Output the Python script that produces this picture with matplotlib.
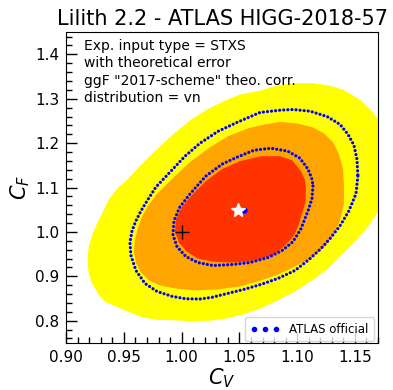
import matplotlib
matplotlib.use("Agg")
import matplotlib.pyplot as plt
from matplotlib.lines import Line2D
from matplotlib.ticker import MultipleLocator, FormatStrFormatter

# Lilith likelihood regions in the (C_V, C_F) plane (boundary vertices)
cv_1sigma = [1.1076, 1.1072, 1.1050, 1.1016, 1.0972, 1.0894, 1.0799, 1.0678, 1.0574, 1.0418,
             1.0271, 1.0141, 1.0046, 0.9977, 0.9942, 0.9951, 1.0003, 1.0089, 1.0210, 1.0349,
             1.0505, 1.0687, 1.0851, 1.0955, 1.1033, 1.1068]
cf_1sigma = [1.0967, 1.0676, 1.0474, 1.0183, 0.9914, 0.9690, 0.9489, 0.9388, 0.9332, 0.9310,
             0.9332, 0.9399, 0.9556, 0.9758, 1.0004, 1.0273, 1.0564, 1.0832, 1.1146, 1.1415,
             1.1594, 1.1706, 1.1706, 1.1616, 1.1370, 1.1168]

cv_2sigma = [1.1405, 1.1405, 1.1371, 1.1310, 1.1232, 1.1111, 1.0981, 1.0834, 1.0687, 1.0505,
             1.0314, 1.0115, 0.9942, 0.9812, 0.9717, 0.9648, 0.9604, 0.9587, 0.9596, 0.9622,
             0.9656, 0.9708, 0.9786, 0.9925, 1.0072, 1.0245, 1.0401, 1.0574, 1.0721, 1.0851,
             1.0998, 1.1137, 1.1232, 1.1310, 1.1362, 1.1397]
cf_2sigma = [1.1079, 1.0631, 1.0250, 0.9914, 0.9646, 0.9399, 0.9220, 0.9041, 0.8907, 0.8772,
             0.8705, 0.8683, 0.8728, 0.8795, 0.8907, 0.9086, 0.9310, 0.9556, 0.9825, 1.0093,
             1.0340, 1.0586, 1.0855, 1.1213, 1.1571, 1.1907, 1.2153, 1.2333, 1.2422, 1.2478,
             1.2445, 1.2355, 1.2221, 1.2019, 1.1750, 1.1415]

cv_3sigma = [1.1821, 1.1786, 1.1700, 1.1613, 1.1500, 1.1388, 1.1267, 1.1128, 1.0981, 1.0834,
             1.0687, 1.0539, 1.0401, 1.0245, 1.0072, 0.9925, 0.9777, 0.9630, 0.9509, 0.9345,
             0.9284, 0.9215, 0.9189, 0.9186, 0.9189, 0.9197, 0.9232, 0.9275, 0.9327, 0.9371,
             0.9448, 0.9535, 0.9639, 0.9769, 0.9925, 1.0072, 1.0219, 1.0375, 1.0505, 1.0678,
             1.0825, 1.0964, 1.1137, 1.1284, 1.1397, 1.1544, 1.1656, 1.1717, 1.1803, 1.1838]
cf_3sigma = [1.1415, 1.0855, 1.0452, 1.0116, 0.9780, 0.9489, 0.9175, 0.8907, 0.8660, 0.8459,
             0.8280, 0.8145, 0.8056, 0.8000, 0.7989, 0.8011, 0.8018, 0.8101, 0.8235, 0.8414,
             0.8571, 0.8884, 0.9175, 0.9332, 0.9511, 0.9690, 0.9981, 1.0228, 1.0496, 1.0743,
             1.0989, 1.1191, 1.1482, 1.1818, 1.2198, 1.2512, 1.2758, 1.2959, 1.3094, 1.3183,
             1.3295, 1.3351, 1.3351, 1.3295, 1.3206, 1.2982, 1.2691, 1.2489, 1.2086, 1.1750]

# ATLAS official 68% and 95% CL contours
cv_atlas68 = [1.1137, 1.1128, 1.1094, 1.1033, 1.0964, 1.0868, 1.0747, 1.0591, 1.0436, 1.0271,
              1.0141, 1.0037, 0.9959, 0.9925, 0.9933, 0.9985, 1.0072, 1.0210, 1.0349, 1.0479,
              1.0626, 1.0773, 1.0920, 1.1024, 1.1094, 1.1128]
cf_atlas68 = [1.1034, 1.0743, 1.0474, 1.0071, 0.9780, 0.9578, 0.9422, 0.9310, 0.9265, 0.9243,
              0.9310, 0.9444, 0.9668, 0.9937, 1.0250, 1.0564, 1.0855, 1.1258, 1.1526, 1.1683,
              1.1840, 1.1885, 1.1818, 1.1661, 1.1415, 1.1191]

cv_atlas95 = [1.1526, 1.1509, 1.1448, 1.1371, 1.1284, 1.1206, 1.1102, 1.0981, 1.0834, 1.0687,
              1.0539, 1.0401, 1.0262, 1.0158, 1.0037, 0.9916, 0.9786, 0.9682, 0.9604, 0.9561,
              0.9552, 0.9570, 0.9604, 0.9648, 0.9700, 0.9777, 0.9899, 1.0029, 1.0158, 1.0314,
              1.0479, 1.0678, 1.0851, 1.0964, 1.1111, 1.1258, 1.1371, 1.1440, 1.1492, 1.1518]
cf_atlas95 = [1.1258, 1.0855, 1.0474, 1.0138, 0.9847, 0.9623, 0.9377, 0.9131, 0.8952, 0.8817,
              0.8705, 0.8616, 0.8526, 0.8488, 0.8493, 0.8549, 0.8660, 0.8840, 0.9131, 0.9467,
              0.9758, 1.0026, 1.0250, 1.0474, 1.0698, 1.1011, 1.1347, 1.1706, 1.1997, 1.2265,
              1.2467, 1.2691, 1.2742, 1.2758, 1.2720, 1.2601, 1.2422, 1.2198, 1.1952, 1.1638]

bestfit_lilith = (1.049, 1.050)
bestfit_atlas = (1.054, 1.050)
sm_point = (1.0, 1.0)

info_lines = ["Exp. input type = STXS",
              "with theoretical error",
              'ggF "2017-scheme" theo. corr.',
              "distribution = vn"]

fig = plt.figure(figsize=(3.93, 3.90), dpi=100)
ax = fig.add_axes([0.1684, 0.1208, 0.7934, 0.7967])

ax.fill(cv_3sigma, cf_3sigma, color="#ffff00", lw=0, zorder=1)
ax.fill(cv_2sigma, cf_2sigma, color="#ffa500", lw=0, zorder=2)
ax.fill(cv_1sigma, cf_1sigma, color="#ff3300", lw=0, zorder=3)

dot_style = dict(color="#0000ff", lw=2.3, linestyle=(0, (0.01, 1.27)),
                 dash_capstyle="round", zorder=4)
ax.plot(cv_atlas68 + cv_atlas68[:1], cf_atlas68 + cf_atlas68[:1], **dot_style)
ax.plot(cv_atlas95 + cv_atlas95[:1], cf_atlas95 + cf_atlas95[:1], **dot_style)

ax.plot(*bestfit_atlas, "o", color="#0000ff", ms=3.5, zorder=5)
ax.plot(*bestfit_lilith, "*", color="white", ms=10, mec="white", zorder=6)
ax.plot(*sm_point, "+", color="black", ms=10, mew=1.0, zorder=6)

ax.set_xlim(0.9, 1.17)
ax.set_ylim(0.75, 1.45)
ax.xaxis.set_major_locator(MultipleLocator(0.05))
ax.xaxis.set_minor_locator(MultipleLocator(0.01))
ax.yaxis.set_major_locator(MultipleLocator(0.1))
ax.yaxis.set_minor_locator(MultipleLocator(0.02))
ax.xaxis.set_major_formatter(FormatStrFormatter("%.2f"))
ax.yaxis.set_major_formatter(FormatStrFormatter("%.1f"))
ax.tick_params(which="major", direction="in", length=8, width=1, labelsize=11, pad=5)
ax.tick_params(which="minor", direction="in", length=4.5, width=1)

ax.set_xlabel(r"$C_V$", fontsize=15, labelpad=1)
ax.set_ylabel(r"$C_F$", fontsize=15, labelpad=2)
ax.set_title("Lilith 2.2 - ATLAS HIGG-2018-57", fontsize=15, pad=5)

ax.text(0.057, 0.978, "\n".join(info_lines), transform=ax.transAxes,
        fontsize=10, va="top", ha="left", linespacing=1.3, zorder=7)

proxy = Line2D([], [], marker="o", ls="", color="#0000ff", ms=3.0)
ax.legend([proxy], ["ATLAS official"], loc="lower right", numpoints=3,
          fontsize=8.5, bbox_to_anchor=(0.987, 0.006), borderaxespad=0,
          handletextpad=0.8, handlelength=2.5, borderpad=0.45)

fig.savefig("out.png", dpi=100)
